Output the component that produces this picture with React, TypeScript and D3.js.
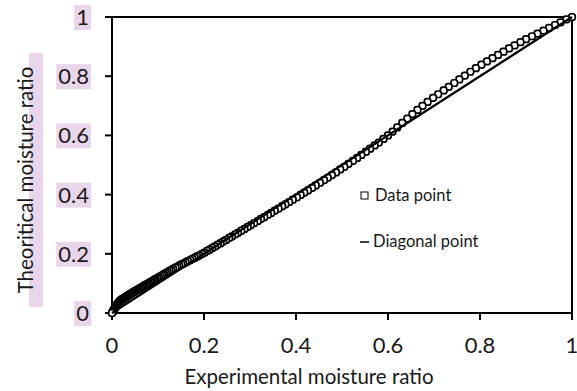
import React, { useEffect, useRef } from "react";
import * as d3 from "d3";

const expMR = [
  1.000, 0.988, 0.975, 0.963, 0.950, 0.938, 0.925, 0.913, 0.900, 0.888, 0.875, 0.863, 0.851, 0.839, 0.827, 0.815, 0.803, 0.791, 0.779, 0.767, 0.755, 0.744, 0.732, 0.721, 0.709, 0.698, 0.686, 0.675, 0.664, 0.653, 0.642, 0.631, 0.620, 0.610, 0.600,
  0.590, 0.580, 0.571, 0.561, 0.552, 0.542, 0.533, 0.524, 0.514, 0.505, 0.496, 0.487, 0.478, 0.469, 0.461, 0.452, 0.443, 0.435, 0.426, 0.418, 0.410, 0.402, 0.393, 0.385, 0.377, 0.370, 0.362, 0.354, 0.346, 0.339, 0.331, 0.324, 0.317, 0.309, 0.302,
  0.295, 0.288, 0.281, 0.274, 0.268, 0.261, 0.255, 0.248, 0.242, 0.236, 0.230, 0.224, 0.218, 0.212, 0.207, 0.201, 0.196, 0.190, 0.185, 0.180, 0.175, 0.170, 0.165, 0.160, 0.155,
  0.151, 0.146, 0.142, 0.138, 0.133, 0.129, 0.125, 0.121, 0.117, 0.113, 0.110, 0.106, 0.102, 0.099, 0.095, 0.092, 0.089, 0.086, 0.083, 0.080, 0.077, 0.074, 0.071, 0.068, 0.066, 0.063, 0.061, 0.058, 0.056, 0.054, 0.051, 0.049, 0.047, 0.045, 0.043, 0.041, 0.039, 0.037, 0.035, 0.034, 0.032, 0.030, 0.029, 0.027, 0.026, 0.024, 0.023, 0.022, 0.020, 0.019, 0.018, 0.017, 0.016, 0.015, 0.014, 0.013, 0.012, 0.011, 0.010, 0.009, 0.008, 0.007, 0.006, 0.005, 0.004, 0.003, 0.002, 0.001, 0.000,
];

const theoMR = [
  1.000, 0.992, 0.982, 0.973, 0.963, 0.954, 0.944, 0.935, 0.925, 0.915, 0.904, 0.894, 0.883, 0.872, 0.861, 0.850, 0.839, 0.827, 0.815, 0.802, 0.789, 0.777, 0.764, 0.752, 0.739, 0.727, 0.713, 0.700, 0.686, 0.672, 0.657, 0.642, 0.627, 0.613, 0.600,
  0.588, 0.576, 0.566, 0.555, 0.545, 0.534, 0.524, 0.514, 0.504, 0.494, 0.485, 0.475, 0.466, 0.457, 0.449, 0.440, 0.431, 0.423, 0.414, 0.407, 0.399, 0.391, 0.383, 0.375, 0.367, 0.361, 0.353, 0.346, 0.338, 0.332, 0.324, 0.318, 0.311, 0.304, 0.297,
  0.291, 0.284, 0.278, 0.271, 0.266, 0.259, 0.254, 0.247, 0.242, 0.236, 0.231, 0.225, 0.220, 0.214, 0.210, 0.204, 0.200, 0.195, 0.191, 0.187, 0.183, 0.179, 0.175, 0.171, 0.167,
  0.164, 0.160, 0.156, 0.153, 0.149, 0.145, 0.142, 0.138, 0.135, 0.131, 0.128, 0.125, 0.121, 0.118, 0.115, 0.112, 0.109, 0.106, 0.104, 0.101, 0.098, 0.096, 0.093, 0.090, 0.088, 0.085, 0.084, 0.081, 0.079, 0.077, 0.075, 0.073, 0.071, 0.069, 0.067, 0.065, 0.063, 0.061, 0.059, 0.058, 0.056, 0.054, 0.053, 0.051, 0.050, 0.048, 0.047, 0.046, 0.044, 0.043, 0.042, 0.040, 0.038, 0.036, 0.034, 0.032, 0.030, 0.028, 0.026, 0.024, 0.021, 0.019, 0.016, 0.013, 0.011, 0.008, 0.005, 0.003, 0.000,
];

const diagX = [0, 1];
const diagY = [0, 1];

const xTicks = [0, 0.2, 0.4, 0.6, 0.8, 1];
const yTicks = [0, 0.2, 0.4, 0.6, 0.8, 1];
const xTickLabels = ["0", "0.2", "0.4", "0.6", "0.8", "1"];
const yTickLabels = ["0", "0.2", "0.4", "0.6", "0.8", "1"];

const legendLabels = ["Data point", "Diagonal point"];
const xTitle = "Experimental moisture ratio";
const yTitle = "Theoritical moisture ratio";

const W = 577;
const H = 391;
const FONT = "Lato, 'Open Sans', sans-serif";
const HIGHLIGHT = "#ead6ea";
const INK = "#1a1a1a";

export default function App() {
  const ref = useRef<SVGSVGElement>(null);

  useEffect(() => {
    const svg = d3.select(ref.current);
    svg.selectAll("*").remove();

    const x = d3.scaleLinear().domain([0, 1]).range([112, 572]);
    const y = d3.scaleLinear().domain([0, 1]).range([313, 17]);

    // y title highlight + text
    svg.append("rect").attr("x", 29).attr("y", 53).attr("width", 14).attr("height", 254).attr("fill", HIGHLIGHT);
    svg.append("text")
      .attr("transform", `translate(33,${(53 + 307) / 2}) rotate(-90)`)
      .attr("text-anchor", "middle")
      .attr("font-family", FONT)
      .attr("font-size", 20.5)
      .attr("fill", INK)
      .text(yTitle);

    // y tick labels with highlight
    yTicks.forEach((t, i) => {
      const g = svg.append("g");
      const txt = g.append("text")
        .attr("x", 89)
        .attr("y", y(t) + 8)
        .attr("text-anchor", "end")
        .attr("font-family", FONT)
        .attr("font-size", 22)
        .attr("fill", INK)
        .text(yTickLabels[i]);
      const bb = (txt.node() as SVGTextElement).getBBox();
      g.insert("rect", "text")
        .attr("x", bb.x - 2)
        .attr("y", y(t) - 12)
        .attr("width", bb.width + 4)
        .attr("height", 25)
        .attr("fill", HIGHLIGHT);
    });

    // x tick labels
    xTicks.forEach((t, i) => {
      svg.append("text")
        .attr("x", x(t))
        .attr("y", 353)
        .attr("text-anchor", "middle")
        .attr("font-family", FONT)
        .attr("font-size", 22)
        .attr("fill", INK)
        .text(xTickLabels[i]);
    });

    // x title
    svg.append("text")
      .attr("x", 309)
      .attr("y", 384)
      .attr("text-anchor", "middle")
      .attr("font-family", FONT)
      .attr("font-size", 20.5)
      .attr("fill", INK)
      .text(xTitle);

    // box (top & right)
    svg.append("line").attr("x1", x(0)).attr("x2", x(1)).attr("y1", y(1)).attr("y2", y(1)).attr("stroke", "#000").attr("stroke-width", 2);
    svg.append("line").attr("x1", x(1)).attr("x2", x(1)).attr("y1", y(0)).attr("y2", y(1)).attr("stroke", "#000").attr("stroke-width", 2);

    // axes
    svg.append("line").attr("x1", x(0)).attr("x2", x(1)).attr("y1", y(0)).attr("y2", y(0)).attr("stroke", "#000").attr("stroke-width", 2);
    svg.append("line").attr("x1", x(0)).attr("x2", x(0)).attr("y1", y(0)).attr("y2", y(1)).attr("stroke", "#000").attr("stroke-width", 2);
    xTicks.forEach((t) => {
      svg.append("line").attr("x1", x(t)).attr("x2", x(t)).attr("y1", y(0)).attr("y2", y(0) + 7).attr("stroke", "#000").attr("stroke-width", 2);
    });
    yTicks.forEach((t) => {
      svg.append("line").attr("x1", x(0) - 7).attr("x2", x(0)).attr("y1", y(t)).attr("y2", y(t)).attr("stroke", "#000").attr("stroke-width", 2);
    });

    // data points
    const m = 6.5;
    svg.append("g")
      .selectAll("rect")
      .data(expMR.map((e, i) => [e, theoMR[i]]))
      .join("rect")
      .attr("x", (d) => x(d[0]) - m / 2)
      .attr("y", (d) => y(d[1]) - m / 2)
      .attr("width", m)
      .attr("height", m)
      .attr("rx", 2.5)
      .attr("fill", "#fff")
      .attr("stroke", "#000")
      .attr("stroke-width", 1.7);

    // diagonal
    const line = d3.line<number>().x((d) => x(d)).y((d, i) => y(diagY[i]));
    svg.append("path")
      .attr("d", line(diagX))
      .attr("fill", "none")
      .attr("stroke", "#000")
      .attr("stroke-width", 2.2);

    // legend
    svg.append("rect").attr("x", 361).attr("y", 192).attr("width", 7).attr("height", 7)
      .attr("fill", "#fff").attr("stroke", "#000").attr("stroke-width", 1);
    svg.append("text").attr("x", 375).attr("y", 201).attr("font-family", FONT).attr("font-size", 16.5).attr("fill", INK).text(legendLabels[0]);
    svg.append("line").attr("x1", 360).attr("x2", 369).attr("y1", 242).attr("y2", 242).attr("stroke", "#000").attr("stroke-width", 1.5);
    svg.append("text").attr("x", 373).attr("y", 247).attr("font-family", FONT).attr("font-size", 16.5).attr("fill", INK).text(legendLabels[1]);
  }, []);

  return (
    <svg ref={ref} width={W} height={H} style={{ position: "absolute", left: 0, top: 0, background: "#fff" }} />
  );
}
